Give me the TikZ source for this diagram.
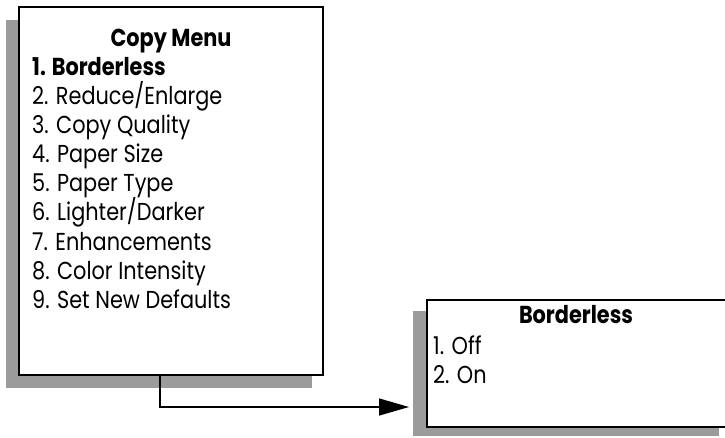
\documentclass[tikz,border=0pt]{standalone}
\usepackage{fontspec}
\setmainfont[FakeStretch=0.85]{Poppins}
\usetikzlibrary{arrows.meta}
\definecolor{shadowgray}{RGB}{155,155,155}
\begin{document}
\begin{tikzpicture}[x=1pt,y=-1pt,
  shadowbox/.style={fill=shadowgray,inner sep=0,outer sep=0,anchor=north west},
  menubox/.style={fill=white,draw=black,line width=1.3pt,inner sep=0,outer sep=0,anchor=north west},
  title/.style={font=\fontsize{24.5}{29}\selectfont\bfseries,inner sep=0,anchor=base},
  item/.style={font=\fontsize{24.5}{29}\selectfont,inner sep=0,anchor=base west},
  connector/.style={line width=1.3pt,-{Triangle[length=30pt,width=17pt]}}]
\useasboundingbox (0,0) rectangle (725,437);
\clip (0,0) rectangle (725,437);
% left menu
\node[shadowbox,minimum width=306pt,minimum height=368pt] (menushadow) at (6,20) {};
\node[menubox,minimum width=304pt,minimum height=368pt] (menu) at (19,7) {};
\node[title] (menutitle) at (171,46) {Copy Menu};
\node[item,font=\fontsize{24.5}{29}\selectfont\bfseries] (m1) at (32,75) {1. Borderless};
\node[item] (m2) at (32,104) {2. Reduce/Enlarge};
\node[item] (m3) at (32,133) {3. Copy Quality};
\node[item] (m4) at (32,162.2) {4. Paper Size};
\node[item] (m5) at (32,191.5) {5. Paper Type};
\node[item] (m6) at (32,220.7) {6. Lighter/Darker};
\node[item] (m7) at (32,250) {7. Enhancements};
\node[item] (m8) at (32,279.2) {8. Color Intensity};
\node[item] (m9) at (32,308.5) {9. Set New Defaults};
% right submenu
\node[shadowbox,minimum width=306pt,minimum height=125pt] (subshadow) at (413,311) {};
\node[menubox,minimum width=304pt,minimum height=127pt] (sub) at (427,300) {};
\node[title] (subtitle) at (576,323) {Borderless};
\node[item] (s1) at (433,354) {1. Off};
\node[item] (s2) at (433,383) {2. On};
% connector
\coordinate (bend) at (160,407);
\coordinate (tip) at (409,407);
\draw[connector] (menu.south -| bend) -- (bend) -- (tip);
\end{tikzpicture}
\end{document}
